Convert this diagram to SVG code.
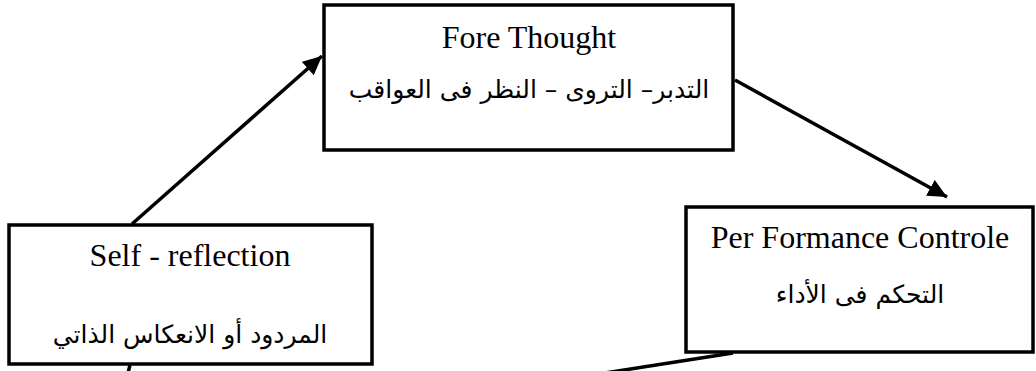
<svg xmlns="http://www.w3.org/2000/svg" width="1036" height="371" viewBox="0 0 1036 371">
<style>
.box{fill:#fff;stroke:#000;stroke-width:3.5}
.en{font-family:"Liberation Serif","Times New Roman",serif;font-size:32px;fill:#000;text-anchor:middle}
.ar{font-family:"DejaVu Sans","Noto Sans",sans-serif;font-size:25px;fill:#000;text-anchor:middle;direction:rtl}
.con{fill:none;stroke:#000;stroke-width:3.5}
</style>
<defs>
<marker id="ah" markerUnits="userSpaceOnUse" markerWidth="22" markerHeight="18" refX="19" refY="9" orient="auto">
<path d="M0,0 L19,9 L0,18 Z" fill="#000"/>
</marker>
</defs>
<rect width="1036" height="371" fill="#fff"/>
<g id="connectors">
<line class="con" x1="132" y1="224" x2="322" y2="56" marker-end="url(#ah)"/>
<line class="con" x1="735" y1="80" x2="947" y2="197" marker-end="url(#ah)"/>
<line class="con" x1="733" y1="353" x2="560" y2="380"/>
<line class="con" x1="128" y1="373" x2="130" y2="365"/>
</g>
<g id="fore-thought">
<rect class="box" x="324" y="5" width="409" height="145"/>
<text class="en" x="529" y="48">Fore Thought</text>
<text class="ar" x="529" y="98">التدبر– التروى – النظر فى العواقب</text>
</g>
<g id="self-reflection">
<rect class="box" x="9" y="225" width="363" height="139"/>
<text class="en" x="190" y="266">Self - reflection</text>
<text class="ar" x="190" y="343">المردود أو الانعكاس الذاتي</text>
</g>
<g id="performance-control">
<rect class="box" x="686" y="207" width="347" height="145"/>
<text class="en" x="860" y="248">Per Formance Controle</text>
<text class="ar" x="860" y="303">التحكم فى الأداء</text>
</g>
</svg>
